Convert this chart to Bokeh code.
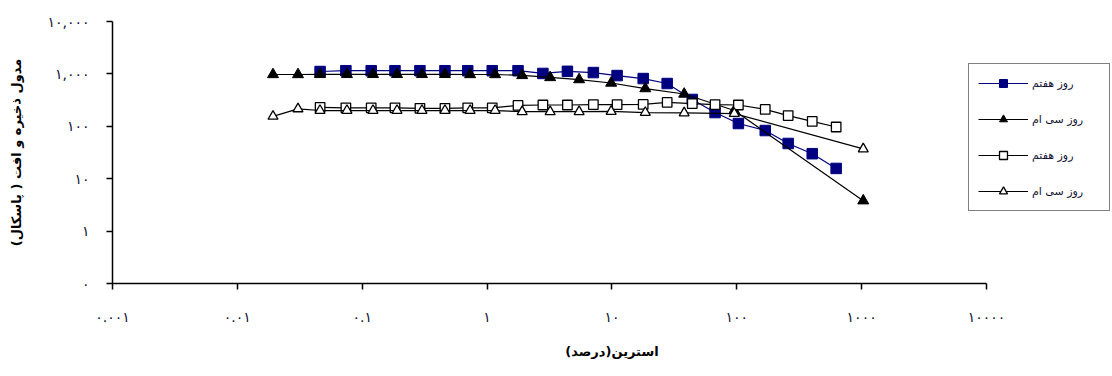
from bokeh.plotting import figure
from bokeh.models import Range1d, FixedTicker, CustomJSTickFormatter, Legend, LegendItem
from bokeh.embed import file_html
from bokeh.resources import INLINE

# ---- data ----
x_day7 = [0.046, 0.074, 0.118, 0.183, 0.29, 0.46, 0.70, 1.1, 1.77, 2.8, 4.4,
          7.1, 11, 17.8, 27.7, 44, 67, 103, 169, 258, 402, 625]
g_day7_filled = [1110, 1150, 1150, 1150, 1150, 1150, 1150, 1150, 1150, 1020, 1120,
                 1060, 930, 815, 655, 325, 183, 113, 83, 47, 30, 15.7]
g_day7_open = [230, 225, 225, 225, 220, 220, 225, 225, 250, 255, 255,
               260, 260, 262, 285, 270, 260, 255, 210, 160, 124, 97]

x_day30 = [0.0193, 0.0306, 0.0459, 0.0755, 0.122, 0.19, 0.301, 0.46, 0.731,
           1.16, 1.91, 3.2, 5.46, 9.86, 18.5, 37.9, 95.5, 1030]
g_day30_filled = [975, 975, 980, 980, 980, 980, 980, 980, 975,
                  975, 935, 855, 780, 670, 525, 413, 200, 3.8]
g_day30_open = [155, 215, 200, 200, 200, 200, 200, 200, 200,
                200, 190, 190, 190, 192, 183, 180, 175, 37]

series_labels = ["روز هفتم", "روز سی ام", "روز هفتم", "روز سی ام"]

x_ticks = [0.001, 0.01, 0.1, 1, 10, 100, 1000, 10000]
x_tick_labels = ["۰.۰۰۱", "۰.۰۱", "۰.۱", "۱", "۱۰", "۱۰۰", "۱۰۰۰", "۱۰۰۰۰"]
y_ticks = [0.1, 1, 10, 100, 1000, 10000]
y_tick_labels = ["۰", "۱", "۱۰", "۱۰۰", "۱,۰۰۰", "۱۰,۰۰۰"]

x_title = "استرین(درصد)"
y_title = "مدول ذخیره و افت ( پاسکال)"

FONT = "DejaVu Sans"

# frame spans 0.001 .. ~1e5 so that the legend fits inside it;
# the x axis itself is bounded to 0.001 .. 10000
W, H = 1112, 376
LEFT, RIGHT, TOP, BOTTOM = 112, 1, 21, 93
PX_PER_DECADE = 874 / 7
X_MAX = 10 ** (-3 + (W - LEFT - RIGHT) / PX_PER_DECADE)

p = figure(width=W, height=H, x_axis_type="log", y_axis_type="log",
           x_range=Range1d(0.001, X_MAX), y_range=Range1d(0.1, 10000),
           output_backend="svg", toolbar_location=None,
           min_border_left=LEFT, min_border_right=RIGHT,
           min_border_top=TOP, min_border_bottom=BOTTOM)
p.outline_line_color = None
p.xgrid.visible = False
p.ygrid.visible = False
p.background_fill_color = "white"
p.border_fill_color = "white"

# lines + markers
l1 = p.line(x_day7, g_day7_filled, line_color="#000080", line_width=1.2)
m1 = p.scatter(x_day7, g_day7_filled, marker="square", size=10.5,
               fill_color="#000080", line_color="#000080")
l2 = p.line(x_day30, g_day30_filled, line_color="black", line_width=1.2)
m2 = p.scatter(x_day30, g_day30_filled, marker="triangle", size=11,
               fill_color="black", line_color="black")
l3 = p.line(x_day7, g_day7_open, line_color="black", line_width=1.2)
m3 = p.scatter(x_day7, g_day7_open, marker="square", size=9.5,
               fill_color="white", line_color="black", line_width=1.3)
l4 = p.line(x_day30, g_day30_open, line_color="black", line_width=1.2)
m4 = p.scatter(x_day30, g_day30_open, marker="triangle", size=10,
               fill_color="white", line_color="black", line_width=1.3)

# axes
p.xaxis.ticker = FixedTicker(ticks=x_ticks)
p.yaxis.ticker = FixedTicker(ticks=y_ticks)
p.xaxis.bounds = (x_ticks[0], x_ticks[-1])
p.xaxis.formatter = CustomJSTickFormatter(args=dict(labs=x_tick_labels), code="""
const i = Math.round(Math.log10(tick)) + 3;
return (i >= 0 && i < labs.length) ? labs[i] : "";
""")
p.yaxis.formatter = CustomJSTickFormatter(args=dict(labs=y_tick_labels), code="""
const i = Math.round(Math.log10(tick)) + 1;
return (i >= 0 && i < labs.length) ? labs[i] : "";
""")
for ax in (p.xaxis[0], p.yaxis[0]):
    ax.axis_line_color = "black"
    ax.axis_line_width = 1.5
    ax.major_tick_line_color = "black"
    ax.major_tick_line_width = 1.5
    ax.major_tick_out = 6
    ax.major_tick_in = 0
    ax.minor_tick_line_color = None
    ax.major_label_text_font = FONT
    ax.major_label_text_font_size = "14px"
    ax.major_label_text_color = "#111133"
    ax.axis_label_text_font = FONT
    ax.axis_label_text_font_size = "13px"
    ax.axis_label_text_font_style = "bold"
    ax.axis_label_text_color = "black"

p.xaxis.axis_label = x_title
p.yaxis.axis_label = y_title
p.xaxis.major_label_standoff = 19
p.xaxis.axis_label_standoff = 16
p.yaxis.major_label_standoff = 17
p.yaxis.axis_label_standoff = 20

legend = Legend(items=[
    LegendItem(label=series_labels[0], renderers=[l1, m1]),
    LegendItem(label=series_labels[1], renderers=[l2, m2]),
    LegendItem(label=series_labels[2], renderers=[l3, m3]),
    LegendItem(label=series_labels[3], renderers=[l4, m4]),
], location=(856, 72))
legend.label_text_font = FONT
legend.label_text_font_size = "11px"
legend.label_text_color = "#111133"
legend.glyph_width = 50
legend.glyph_height = 20
legend.label_height = 20
legend.label_width = 68
legend.label_standoff = 4
legend.spacing = 16
legend.padding = 9
legend.margin = 0
legend.border_line_color = "black"
legend.border_line_width = 1.5
legend.background_fill_color = "white"
legend.background_fill_alpha = 1
p.add_layout(legend, "center")

open("out.html", "w").write(file_html(p, INLINE))
